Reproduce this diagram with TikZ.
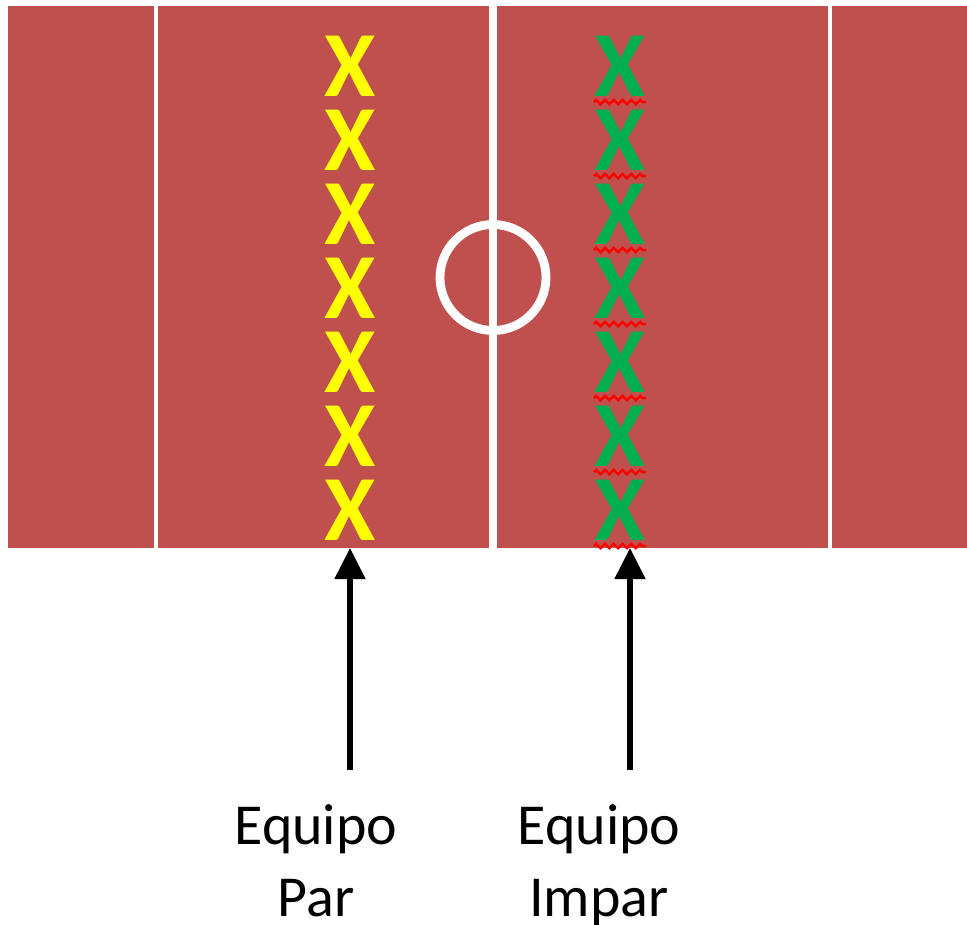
\documentclass[tikz,border=0pt]{standalone}
\usepackage{fontspec}
\setmainfont{Carlito}
\usetikzlibrary{arrows.meta,decorations.pathmorphing}
\definecolor{campo}{HTML}{C0504D}
\definecolor{amarillo}{HTML}{FFFF00}
\definecolor{verde}{HTML}{00B050}
\tikzset{
    jugpar/.style={inner sep=0pt,text=amarillo,font=\fontsize{53}{53}\selectfont\bfseries},
    jugimpar/.style={inner sep=0pt,text=verde,font=\fontsize{53}{53}\selectfont\bfseries},
    rayita/.style={draw=red,line width=1.4pt,decorate,decoration={zigzag,amplitude=1.2pt,segment length=5pt}},
    flecha/.style={line width=2.9pt,-{Triangle[length=0.62cm,width=0.6cm]}},
    etiqueta/.style={inner sep=0pt,align=center,font=\fontsize{33}{41}\selectfont}
}
\begin{document}
\begin{tikzpicture}[x=0.02cm,y=-0.02cm]
        \useasboundingbox (0,0) rectangle (967,924);
        % campo
        \fill[campo] (8,6) rectangle (967,548);
        \fill[white] (154,6) rectangle (158,548);
        \fill[white] (489,6) rectangle (497,548);
        \fill[white] (828,6) rectangle (832,548);
        \draw[white,line width=5pt] (493,277.5) circle (53);
        % equipo par
        \node[jugpar] (y1) at (350,66.5)  {X};
        \node[jugpar] (y2) at (350,140.5) {X};
        \node[jugpar] (y3) at (350,214.5) {X};
        \node[jugpar] (y4) at (350,288.5) {X};
        \node[jugpar] (y5) at (350,362.5) {X};
        \node[jugpar] (y6) at (350,436.5) {X};
        \node[jugpar] (y7) at (350,510.5) {X};
        % equipo impar
        \node[jugimpar] (g1) at (620,66.5)  {X};
        \node[jugimpar] (g2) at (620,140.5) {X};
        \node[jugimpar] (g3) at (620,214.5) {X};
        \node[jugimpar] (g4) at (620,288.5) {X};
        \node[jugimpar] (g5) at (620,362.5) {X};
        \node[jugimpar] (g6) at (620,436.5) {X};
        \node[jugimpar] (g7) at (620,510.5) {X};
        \draw[rayita] ([yshift=-0.1cm]g1.south west) -- ([yshift=-0.1cm]g1.south east);
        \draw[rayita] ([yshift=-0.1cm]g2.south west) -- ([yshift=-0.1cm]g2.south east);
        \draw[rayita] ([yshift=-0.1cm]g3.south west) -- ([yshift=-0.1cm]g3.south east);
        \draw[rayita] ([yshift=-0.1cm]g4.south west) -- ([yshift=-0.1cm]g4.south east);
        \draw[rayita] ([yshift=-0.1cm]g5.south west) -- ([yshift=-0.1cm]g5.south east);
        \draw[rayita] ([yshift=-0.1cm]g6.south west) -- ([yshift=-0.1cm]g6.south east);
        \draw[rayita] ([yshift=-0.1cm]g7.south west) -- ([yshift=-0.1cm]g7.south east);
        % etiquetas
        \node[etiqueta,anchor=north] (par)   at (316,804) {Equipo\\Par};
        \node[etiqueta,anchor=north] (impar) at (599,804) {Equipo\\Impar};
        \coordinate (cpar)   at (350,770);
        \coordinate (cimpar) at (630,770);
        \draw[flecha] (cpar)   -- (350,548);
        \draw[flecha] (cimpar) -- (630,548);
    \end{tikzpicture}
\end{document}
